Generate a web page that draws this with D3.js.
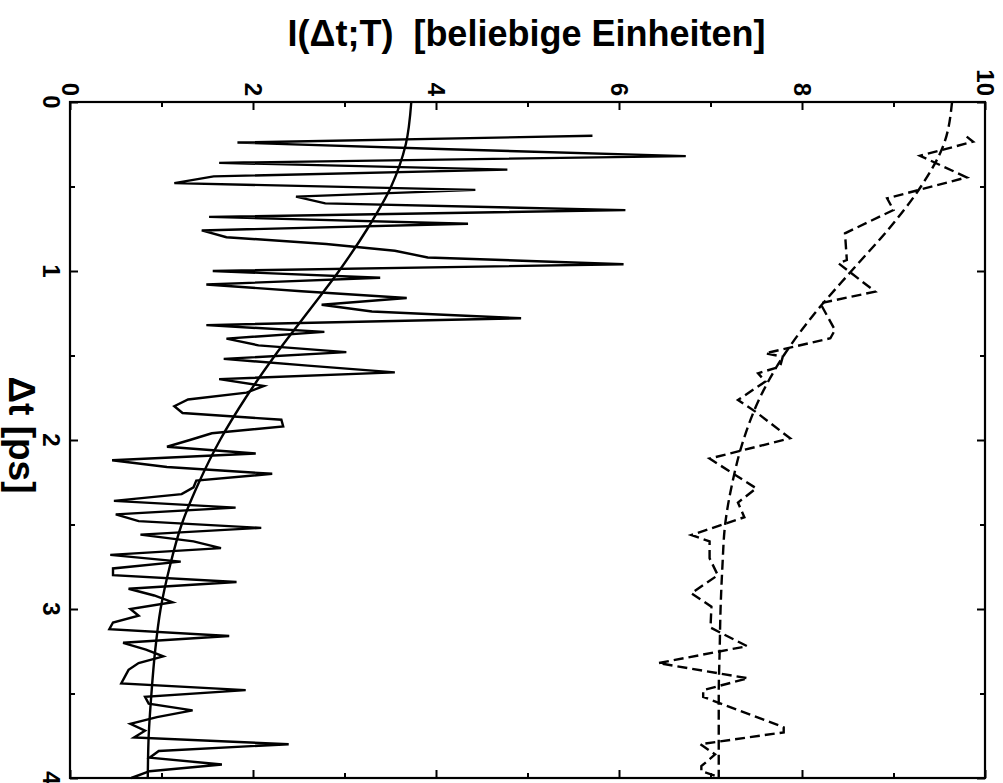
<!DOCTYPE html>
<html>
<head>
<meta charset="utf-8">
<script src="https://cdn.jsdelivr.net/npm/d3@7"></script>
<style>
  html, body { margin: 0; padding: 0; background: #fff; }
  svg { display: block; }
  text { font-family: "Liberation Sans", Arial, Helvetica, sans-serif; font-weight: bold; fill: #000; white-space: pre; }
</style>
</head>
<body>
<svg id="chart" width="1003" height="783"></svg>
<script>
// ---- data (Δt in ps, intensity in arbitrary units) ----
const solidT = [
  0.20,0.24,0.28,0.32,0.36,0.40,0.44,0.48,0.52,0.56,
  0.60,0.64,0.68,0.72,0.76,0.80,0.84,0.88,0.92,0.96,
  1.00,1.04,1.08,1.12,1.16,1.20,1.24,1.28,1.32,1.36,
  1.40,1.44,1.48,1.52,1.56,1.60,1.64,1.68,1.72,1.76,
  1.80,1.84,1.88,1.92,1.96,2.00,2.04,2.08,2.12,2.16,
  2.20,2.24,2.28,2.32,2.36,2.40,2.44,2.48,2.52,2.56,
  2.60,2.64,2.68,2.72,2.76,2.80,2.84,2.88,2.92,2.96,
  3.00,3.04,3.08,3.12,3.16,3.20,3.24,3.28,3.32,3.36,
  3.40,3.44,3.48,3.52,3.56,3.60,3.64,3.68,3.72,3.76,
  3.80,3.84,3.88,3.92,3.96,4.00
];
const solidI = [
  5.71,1.83,4.14,6.73,1.63,4.78,1.57,1.14,4.43,2.47,
  2.79,6.07,1.52,4.35,1.44,1.71,2.80,3.55,3.91,6.05,
  1.56,3.39,1.49,2.53,3.68,2.75,3.30,4.93,1.49,2.78,
  1.71,2.06,3.02,1.68,2.60,3.55,1.63,2.12,1.93,1.29,
  1.14,1.23,2.31,2.33,1.55,1.31,1.06,2.03,0.46,1.06,
  2.21,1.38,1.35,1.22,0.48,1.81,0.50,0.75,2.09,0.77,
  1.35,1.65,0.44,1.21,0.47,0.47,1.82,0.64,0.92,1.12,
  0.66,0.75,0.47,0.43,1.74,0.58,0.83,1.02,0.75,0.64,
  0.60,0.56,1.92,0.82,0.86,1.34,0.95,0.66,0.82,0.70,
  2.39,0.97,0.87,1.66,0.87,0.67
];
const dashT = [
  0.205,0.235,0.318,0.446,0.570,0.639,0.777,0.935,0.955,1.122,
  1.191,1.349,1.398,1.487,1.507,1.566,1.605,1.654,1.763,1.832,
  1.99,2.11,2.286,2.37,2.457,2.562,2.60,2.70,2.80,2.907,
  2.986,3.11,3.22,3.32,3.41,3.48,3.52,3.70,3.73,3.80,
  3.86,3.93,3.96,3.99
];
const dashI = [
  9.80,9.87,9.29,9.80,8.93,9.00,8.47,8.49,8.40,8.80,
  8.20,8.36,8.31,7.60,7.79,7.76,7.52,7.60,7.30,7.49,
  7.87,6.99,7.50,7.30,7.37,6.79,6.99,6.99,7.08,6.79,
  7.01,7.00,7.40,6.43,7.41,6.92,6.92,7.80,7.80,6.89,
  7.05,6.90,6.90,7.07
];
const fitT = [0,0.25,0.5,0.75,1,1.25,1.5,1.75,2,2.25,2.5,2.75,3,3.25,3.5,3.75,4];
const solidFitI = [3.73,3.67,3.51,3.25,2.94,2.59,2.24,1.92,1.64,1.41,1.22,1.09,0.99,0.93,0.89,0.86,0.85];
const dashFitI  = [9.64,9.55,9.30,8.95,8.54,8.14,7.80,7.54,7.36,7.24,7.16,7.13,7.11,7.10,7.09,7.09,7.09];

const iMajorTicks = [0,2,4,6,8,10];
const iMinorTicks = [1,3,5,7,9];
const tMajorTicks = [0,1,2,3,4];
const tMinorTicks = [0.5,1.5,2.5,3.5];

const titleTop = "I(\u0394t;T)  [beliebige Einheiten]";
const titleLeft = "\u0394t [ps]";

// ---- layout ----
const L = 70, R = 985, T = 102, B = 778;
const svg = d3.select("#chart");
const x = d3.scaleLinear().domain([0, 10]).range([L, R]);
const y = d3.scaleLinear().domain([0, 4]).range([T, B]);

const MAJ = 8, MIN = 5;
function tickAxis(axisFn, scale, vals, size, tr) {
  const g = svg.append("g").attr("transform", tr)
    .call(axisFn(scale).tickValues(vals).tickSizeInner(-size).tickSizeOuter(0).tickFormat(""));
  g.select(".domain").remove();
  g.selectAll(".tick line").attr("stroke", "#000").attr("stroke-width", 2);
  return g;
}
tickAxis(d3.axisTop, x, iMajorTicks, MAJ, `translate(0,${T})`);
tickAxis(d3.axisTop, x, iMinorTicks, MIN, `translate(0,${T})`);
tickAxis(d3.axisBottom, x, iMajorTicks, MAJ, `translate(0,${B})`);
tickAxis(d3.axisBottom, x, iMinorTicks, MIN, `translate(0,${B})`);
tickAxis(d3.axisLeft, y, tMajorTicks, MAJ, `translate(${L},0)`);
tickAxis(d3.axisLeft, y, tMinorTicks, MIN, `translate(${L},0)`);
tickAxis(d3.axisRight, y, tMajorTicks, MAJ, `translate(${R},0)`);
tickAxis(d3.axisRight, y, tMinorTicks, MIN, `translate(${R},0)`);

// frame
svg.append("rect").attr("x", L).attr("y", T).attr("width", R - L).attr("height", B - T)
  .attr("fill", "none").attr("stroke", "#000").attr("stroke-width", 2.2);

// tick labels (rotated 90°)
svg.append("g").selectAll("text").data(iMajorTicks).join("text")
  .attr("transform", d => `translate(${x(d)},${T - 6}) rotate(90)`)
  .attr("text-anchor", "end").attr("dy", "0.35em")
  .style("font-size", "24px")
  .text(d => d);
svg.append("g").selectAll("text").data(tMajorTicks).join("text")
  .attr("transform", d => `translate(${L - 19},${y(d)}) rotate(90)`)
  .attr("text-anchor", "middle").attr("dy", "0.35em")
  .style("font-size", "24px")
  .text(d => d);

// titles
svg.append("text").attr("x", (L + R) / 2 - 1).attr("y", 46)
  .attr("text-anchor", "middle").style("font-size", "36px").text(titleTop);
svg.append("text").attr("transform", `translate(22,${(T + B) / 2 - 5}) rotate(90)`)
  .attr("text-anchor", "middle").attr("dy", "0.35em")
  .style("font-size", "37px").text(titleLeft);

// lines
const lineGen = (ts, is, curve) => d3.line()
  .x((d, i) => x(is[i])).y((d, i) => y(ts[i])).curve(curve)(ts);

const plot = svg.append("g");
plot.append("path").attr("d", lineGen(solidT, solidI, d3.curveLinear))
  .attr("fill", "none").attr("stroke", "#000").attr("stroke-width", 2.4).attr("stroke-linejoin", "miter");
plot.append("path").attr("d", lineGen(fitT, solidFitI, d3.curveMonotoneY))
  .attr("fill", "none").attr("stroke", "#000").attr("stroke-width", 2.4);
plot.append("path").attr("d", lineGen(dashT, dashI, d3.curveLinear))
  .attr("fill", "none").attr("stroke", "#000").attr("stroke-width", 2.4).attr("stroke-dasharray", "10,5");
plot.append("path").attr("d", lineGen(fitT, dashFitI, d3.curveMonotoneY))
  .attr("fill", "none").attr("stroke", "#000").attr("stroke-width", 2.4).attr("stroke-dasharray", "10,5");
</script>
</body>
</html>
